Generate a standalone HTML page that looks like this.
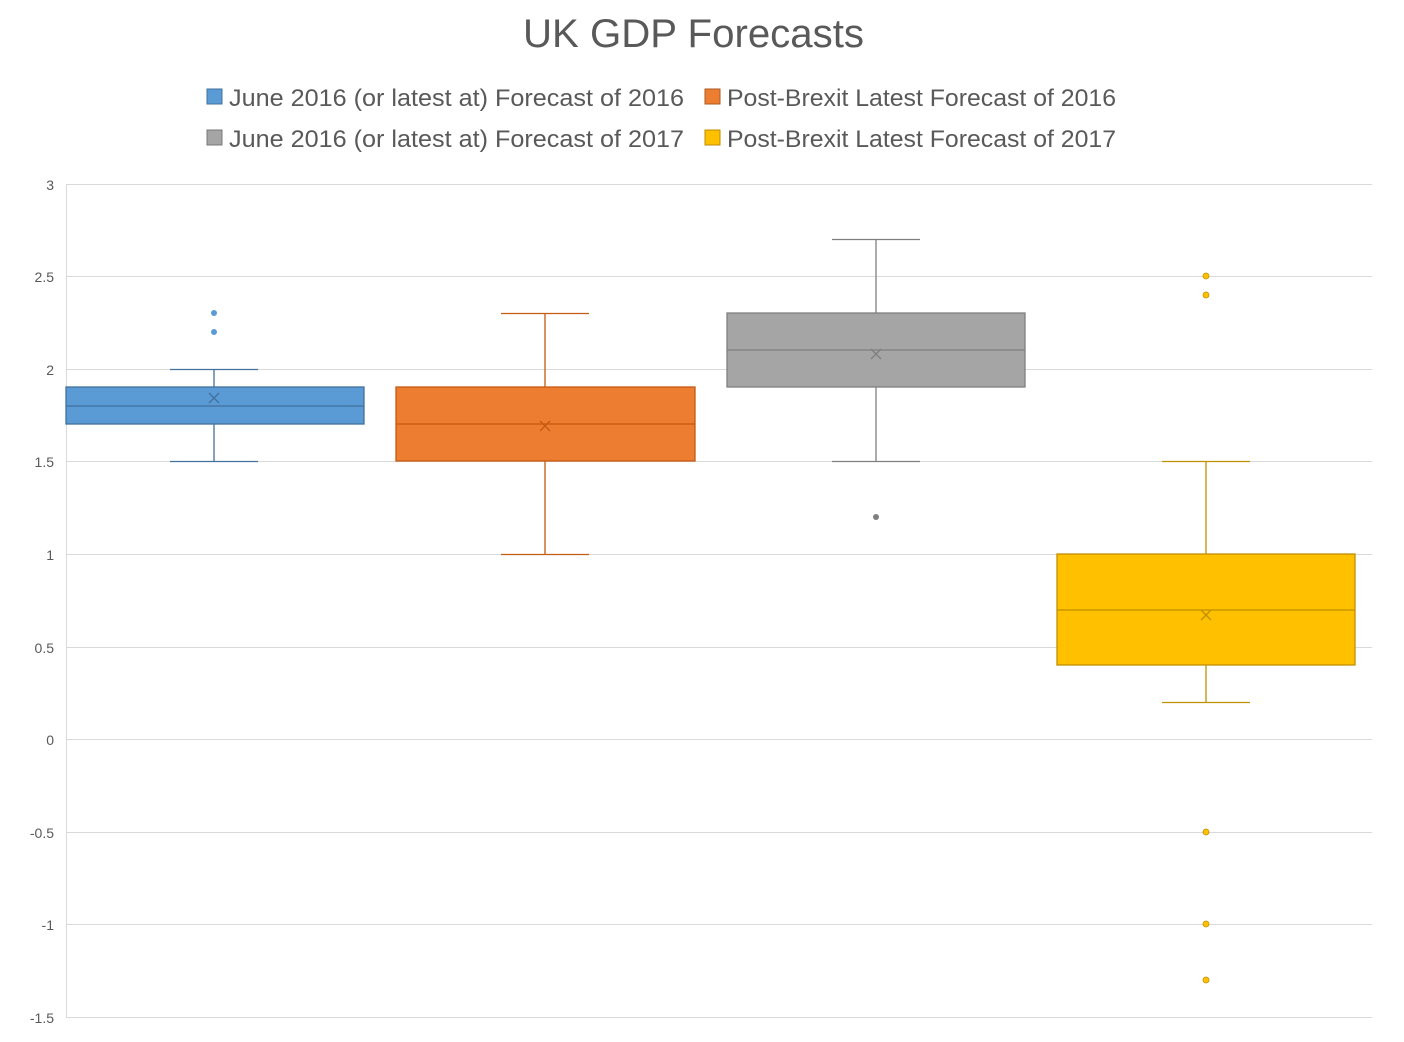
<!DOCTYPE html>
<html><head><meta charset="utf-8"><style>body{margin:0;background:#fff}svg{display:block}</style></head><body>
<svg width="1404" height="1042" xmlns="http://www.w3.org/2000/svg" font-family="Liberation Sans, sans-serif">
<rect width="1404" height="1042" fill="#fff"/>
<text x="523" y="47" font-size="40" fill="#595959" textLength="341" lengthAdjust="spacingAndGlyphs">UK GDP Forecasts</text>
<g font-size="24" fill="#595959">
<rect x="207" y="89" width="15" height="15" fill="#5B9BD5" stroke="#41719C"/><text x="229" y="106" textLength="455" lengthAdjust="spacingAndGlyphs">June 2016 (or latest at) Forecast of 2016</text>
<rect x="705" y="89" width="15" height="15" fill="#ED7D31" stroke="#AE5A21"/><text x="727" y="106" textLength="389" lengthAdjust="spacingAndGlyphs">Post-Brexit Latest Forecast of 2016</text>
<rect x="207" y="130" width="15" height="15" fill="#A5A5A5" stroke="#787878"/><text x="229" y="147" textLength="455" lengthAdjust="spacingAndGlyphs">June 2016 (or latest at) Forecast of 2017</text>
<rect x="705" y="130" width="15" height="15" fill="#FFC000" stroke="#BC8C00"/><text x="727" y="147" textLength="389" lengthAdjust="spacingAndGlyphs">Post-Brexit Latest Forecast of 2017</text>
</g>
<g stroke="#d9d9d9" stroke-width="1">
<line x1="66" x2="1372" y1="184.5" y2="184.5"/><line x1="66" x2="1372" y1="276.5" y2="276.5"/><line x1="66" x2="1372" y1="369.5" y2="369.5"/><line x1="66" x2="1372" y1="461.5" y2="461.5"/><line x1="66" x2="1372" y1="554.5" y2="554.5"/><line x1="66" x2="1372" y1="647.5" y2="647.5"/><line x1="66" x2="1372" y1="739.5" y2="739.5"/><line x1="66" x2="1372" y1="832.5" y2="832.5"/><line x1="66" x2="1372" y1="924.5" y2="924.5"/><line x1="66" x2="1372" y1="1017.5" y2="1017.5"/>
<line x1="66.5" x2="66.5" y1="184" y2="1017"/>
</g>
<g font-size="14" fill="#595959" text-anchor="end">
<text x="54" y="190">3</text><text x="54" y="282">2.5</text><text x="54" y="375">2</text><text x="54" y="467">1.5</text><text x="54" y="560">1</text><text x="54" y="653">0.5</text><text x="54" y="745">0</text><text x="54" y="838">-0.5</text><text x="54" y="930">-1</text><text x="54" y="1023">-1.5</text>
</g>
<g stroke="#41719C" stroke-width="1.3" fill="none">
<line x1="214" x2="214" y1="369" y2="387"/><line x1="214" x2="214" y1="424" y2="461"/>
<line x1="170" x2="258" y1="369.5" y2="369.5"/><line x1="170" x2="258" y1="461.5" y2="461.5"/>
<rect x="66" y="387" width="298" height="37" fill="#5B9BD5"/>
<line x1="66" x2="364" y1="406" y2="406"/>
<path d="M209 393l10 10M219 393l-10 10"/>
</g>
<circle cx="214" cy="313" r="3" fill="#5B9BD5"/><circle cx="214" cy="332" r="3" fill="#5B9BD5"/>
<g stroke="#C55A11" stroke-width="1.3" fill="none">
<line x1="545" x2="545" y1="313" y2="387"/><line x1="545" x2="545" y1="461" y2="554"/>
<line x1="501" x2="589" y1="313.5" y2="313.5"/><line x1="501" x2="589" y1="554.5" y2="554.5"/>
<rect x="396" y="387" width="299" height="74" fill="#ED7D31"/>
<line x1="396" x2="695" y1="424" y2="424"/>
<path d="M540 421l10 10M550 421l-10 10"/>
</g>
<g stroke="#7F7F7F" stroke-width="1.3" fill="none">
<line x1="876" x2="876" y1="239" y2="313"/><line x1="876" x2="876" y1="387" y2="461"/>
<line x1="832" x2="920" y1="239.5" y2="239.5"/><line x1="832" x2="920" y1="461.5" y2="461.5"/>
<rect x="727" y="313" width="298" height="74" fill="#A5A5A5"/>
<line x1="727" x2="1025" y1="350" y2="350"/>
<path d="M871 349l10 10M881 349l-10 10"/>
</g>
<circle cx="876" cy="517" r="3" fill="#7F7F7F"/>
<g stroke="#BF9000" stroke-width="1.3" fill="none">
<line x1="1206" x2="1206" y1="461" y2="554"/><line x1="1206" x2="1206" y1="665" y2="702"/>
<line x1="1162" x2="1250" y1="461.5" y2="461.5"/><line x1="1162" x2="1250" y1="702.5" y2="702.5"/>
<rect x="1057" y="554" width="298" height="111" fill="#FFC000"/>
<line x1="1057" x2="1355" y1="610" y2="610"/>
<path d="M1201 610l10 10M1211 610l-10 10"/>
</g>
<g fill="#FFC000" stroke="#BF9000" stroke-width="0.8">
<circle cx="1206" cy="276" r="3"/><circle cx="1206" cy="295" r="3"/><circle cx="1206" cy="832" r="3"/><circle cx="1206" cy="924" r="3"/><circle cx="1206" cy="980" r="3"/>
</g>
</svg>
</body></html>
